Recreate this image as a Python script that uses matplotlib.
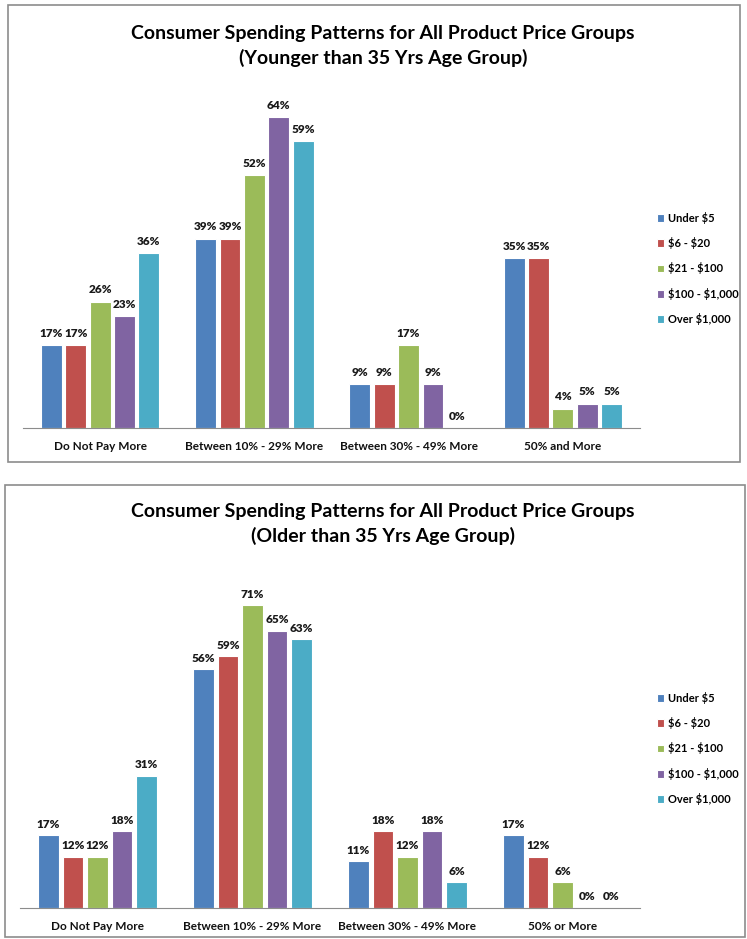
import numpy as np
import matplotlib.pyplot as plt
from matplotlib.patches import Rectangle

categories_young = ["Do Not Pay More", "Between 10% - 29% More", "Between 30% - 49% More", "50% and More"]
categories_old = ["Do Not Pay More", "Between 10% - 29% More", "Between 30% - 49% More", "50% or More"]
series = ["Under $5", "$6 - $20", "$21 - $100", "$100 - $1,000", "Over $1,000"]
colors = ["#4F81BD", "#C0504D", "#9BBB59", "#8064A2", "#4BACC6"]

young = [
    [17, 39, 9, 35],
    [17, 39, 9, 35],
    [26, 52, 17, 4],
    [23, 64, 9, 5],
    [36, 59, 0, 5],
]
old = [
    [17, 56, 11, 17],
    [12, 59, 18, 12],
    [12, 71, 12, 6],
    [18, 65, 18, 0],
    [31, 63, 6, 0],
]

plt.rcParams['font.family'] = ['Lato', 'DejaVu Sans']

fig = plt.figure(figsize=(7.47, 9.39), dpi=100)
W, H = 747, 939


def px(x0, y0, x1, y1):
    # pixel box -> figure fraction [left, bottom, width, height]
    return [x0 / W, 1 - y1 / H, (x1 - x0) / W, (y1 - y0) / H]


def panel(box, axbox, ymax, cats, data, title, title_y, leg_y):
    fig.add_artist(Rectangle((box[0], box[1]), box[2], box[3], transform=fig.transFigure,
                             fill=False, edgecolor="#8c8c8c", linewidth=1.2))
    ax = fig.add_axes(axbox)
    x = np.arange(len(cats))
    step = 0.158
    width = 0.135
    for i, (name, vals) in enumerate(zip(series, data)):
        pos = x + (i - 2) * step
        ax.bar(pos, vals, width, color=colors[i], edgecolor="white", linewidth=0.8,
               label=name.replace("$", r"\$"))
        for p, v in zip(pos, vals):
            ax.text(p, v + 1.3, "{}%".format(v), ha="center", va="bottom",
                    fontsize=8.5, fontweight="heavy", color="#1a1a1a")
    ax.set_xlim(-0.5, len(cats) - 0.5)
    ax.set_ylim(0, ymax)
    ax.set_xticks(x)
    ax.set_xticklabels(cats, fontsize=8.5, fontweight="bold", color="#111111")
    ax.tick_params(axis="x", length=0, pad=9)
    ax.set_yticks([])
    for s in ["top", "right", "left"]:
        ax.spines[s].set_visible(False)
    ax.spines["bottom"].set_color("#8c8c8c")
    ax.patch.set_visible(False)
    fig.text(383 / W, 1 - title_y / H, title, ha="center", va="center",
             fontsize=14, fontweight="bold", linespacing=1.5)
    handles, labels = ax.get_legend_handles_labels()
    fig.legend(handles, labels, loc="upper left", bbox_to_anchor=(650 / W, 1 - leg_y / H),
               frameon=False, prop={"weight": "bold", "size": 8},
               handlelength=0.7, handleheight=0.7, handletextpad=0.3, labelspacing=1.2,
               borderaxespad=0.2)
    return ax


panel(px(8, 5, 740, 462), px(23, 88, 640, 428), 70, categories_young, young,
      "Consumer Spending Patterns for All Product Price Groups\n(Younger than 35 Yrs Age Group)", 46, 205)
panel(px(5, 485, 745, 937), px(20, 588, 640, 908), 75, categories_old, old,
      "Consumer Spending Patterns for All Product Price Groups\n(Older than 35 Yrs Age Group)", 524, 685)

plt.savefig("out.png", dpi=100)
